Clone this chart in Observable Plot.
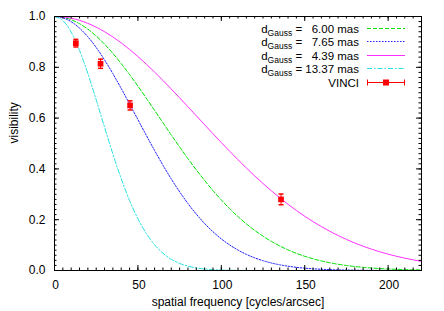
<!DOCTYPE html>
<html><head><meta charset="utf-8">
<script src="https://cdn.jsdelivr.net/npm/d3@7"></script>
<script src="https://cdn.jsdelivr.net/npm/@observablehq/plot@0.6"></script>
<style>html,body{margin:0;padding:0;background:#fff;}</style>
</head><body><div id="chart"></div>
<script>
// spatial frequency samples [cycles/arcsec]
const freq = [0,5,10,15,20,25,30,35,40,45,50,55,60,65,70,75,80,85,90,95,100,105,110,115,120,125,130,135,140,145,150,155,160,165,170,175,180,185,190,195,200,205,210,215,220];
// Gaussian visibility curves
const vis600 = [1,.9968,.9873,.9716,.9500,.9230,.8911,.8547,.8146,.7714,.7259,.6787,.6304,.5819,.5337,.4863,.4404,.3962,.3542,.3146,.2776,.2435,.2121,.1836,.1580,.1350,.1147,.0968,.0811,.0676,.0560,.0460,.0376,.0305,.0246,.0198,.0157,.0125,.0098,.0077,.0059,.0046,.0035,.0027,.0020];
const vis765 = [1,.9948,.9794,.9542,.9200,.8779,.8290,.7748,.7165,.6558,.5940,.5325,.4724,.4147,.3603,.3098,.2636,.2220,.1850,.1526,.1245,.1006,.0804,.0636,.0498,.0386,.0296,.0225,.0169,.0125,.0092,.0067,.0048,.0034,.0024,.0017,.0012,.0008,.0005,.0004,.0002,.0002,.0001,.0001,0];
const vis439 = [1,.9983,.9932,.9847,.9729,.9580,.9401,.9194,.8960,.8703,.8424,.8126,.7812,.7484,.7145,.6798,.6446,.6092,.5737,.5384,.5036,.4694,.4360,.4036,.3724,.3424,.3137,.2864,.2606,.2364,.2136,.1924,.1727,.1545,.1377,.1223,.1083,.0956,.0840,.0736,.0643,.0560,.0485,.0419,.0361];
const vis1337 = [1,.9842,.9384,.8666,.7753,.6719,.5640,.4586,.3613,.2757,.2038,.1459,.1012,.0680,.0442,.0279,.0170,.0101,.0058,.0032,.0017,.0009,.0005,.0002,.0001,0,0,0,0,0,0,0,0,0,0,0,0,0,0,0,0,0,0,0,0];
const dGauss = [6.00, 7.65, 4.39, 13.37];

// VINCI measurements
const vinciFreq = [12.8, 27.6, 45.3, 135.8];
const vinciVis = [0.895, 0.814, 0.650, 0.280];
const vinciErr = [0.015, 0.018, 0.018, 0.021];

// axis ticks
const xMajor = [0, 50, 100, 150, 200];
const yMajor = [0, 0.2, 0.4, 0.6, 0.8, 1.0];
const xMinor = d3.range(0, 221, 5);
const yMinor = d3.range(0, 51).map(i => i / 50);

const W = 444, H = 311, mL = 54, mR = 23, mT = 16, mB = 41;
const fw = W - mL - mR, fh = H - mT - mB;
const FONT = "'Liberation Sans', Arial, Helvetica, sans-serif";

const styles = [
  {vis: vis600, color: "#00e000", dash: "4,2"},
  {vis: vis765, color: "#2020ff", dash: "1.5,1.5"},
  {vis: vis439, color: "#ff30ff", dash: null},
  {vis: vis1337, color: "#20e0e0", dash: "5,2,1.5,2"}
];

const pts = vinciFreq.map((f, i) => ({f, v: vinciVis[i], e: vinciErr[i]}));
const capSymbol = {draw(ctx) { ctx.moveTo(-2.5, 0); ctx.lineTo(2.5, 0); }};

const marks = [];
styles.forEach(s => {
  marks.push(Plot.line(freq.map((f, i) => ({f, v: s.vis[i]})), {
    x: "f", y: "v", stroke: s.color, strokeWidth: 1,
    strokeDasharray: s.dash, curve: "monotone-x"
  }));
});
marks.push(
  Plot.ruleX(pts, {x: "f", y1: d => d.v - d.e, y2: d => d.v + d.e, stroke: "#ff0000", strokeWidth: 1}),
  Plot.dot(pts, {x: "f", y: d => d.v - d.e, symbol: capSymbol, stroke: "#ff0000", r: 3}),
  Plot.dot(pts, {x: "f", y: d => d.v + d.e, symbol: capSymbol, stroke: "#ff0000", r: 3}),
  Plot.dot(pts, {x: "f", y: "v", symbol: "square", fill: "#ff0000", stroke: "none", r: 3.2}),
  // inward ticks on all four sides
  Plot.tickX(xMajor, {x: d => d, insetTop: fh - 5, stroke: "#000"}),
  Plot.tickX(xMajor, {x: d => d, insetBottom: fh - 5, stroke: "#000"}),
  Plot.tickX(xMinor, {x: d => d, insetTop: fh - 2.5, stroke: "#000"}),
  Plot.tickX(xMinor, {x: d => d, insetBottom: fh - 2.5, stroke: "#000"}),
  Plot.tickY(yMajor, {y: d => d, insetRight: fw - 5, stroke: "#000"}),
  Plot.tickY(yMajor, {y: d => d, insetLeft: fw - 5, stroke: "#000"}),
  Plot.tickY(yMinor, {y: d => d, insetRight: fw - 2.5, stroke: "#000"}),
  Plot.tickY(yMinor, {y: d => d, insetLeft: fw - 2.5, stroke: "#000"}),
  Plot.frame({stroke: "#000", strokeWidth: 1}),
  Plot.axisX({ticks: xMajor, tickSize: 0, tickPadding: 10, label: null, dx: 1, fill: "#000"}),
  Plot.axisY({ticks: yMajor, tickSize: 0, tickPadding: 9, label: null, tickFormat: d3.format(".1f"), fill: "#000"}),
  Plot.text(["visibility"], {frameAnchor: "left", rotate: -90, dx: -40, fontSize: 12, fill: "#000"}),
  Plot.text(["spatial frequency [cycles/arcsec]"], {frameAnchor: "bottom", dy: 35, fontSize: 12, fill: "#000"})
);

const plot = Plot.plot({
  width: W, height: H,
  marginLeft: mL, marginRight: mR, marginTop: mT, marginBottom: mB,
  x: {domain: [0, 220]},
  y: {domain: [0, 1]},
  style: {fontFamily: FONT, fontSize: "12px", background: "#fff", color: "#000"},
  marks
});

// legend (key) inside the plot area, top right
const svg = d3.select(plot);
const lg = svg.append("g").attr("font-family", FONT).attr("font-size", 11.5);
const fmt = d3.format(".2f");
const rowY = i => mT + 11.5 + i * 13.5;
styles.forEach((s, i) => {
  const y = Math.round(rowY(i)) + 0.5;
  const t = lg.append("text").attr("x", 359).attr("y", y + 4).attr("text-anchor", "end").style("fill", "#000");
  t.append("tspan").text("d");
  t.append("tspan").attr("dy", 3).attr("font-size", 8.5).text("Gauss");
  const lab = dGauss[i] < 10 ? "\u2007" + fmt(dGauss[i]) : fmt(dGauss[i]);
  t.append("tspan").attr("dy", -3).text(" = " + lab + " mas");
  const ln = lg.append("line").attr("x1", 367).attr("x2", 405).attr("y1", y).attr("y2", y)
    .style("stroke", s.color).style("fill", "none").style("stroke-width", "1.2px");
  if (s.dash) ln.style("stroke-dasharray", s.dash);
});
{
  const y = Math.round(rowY(4)) + 0.5;
  lg.append("text").attr("x", 359).attr("y", y + 4).attr("text-anchor", "end").style("fill", "#000").text("VINCI");
  lg.append("line").attr("x1", 367).attr("x2", 405).attr("y1", y).attr("y2", y).style("stroke", "#ff0000");
  [367.5, 404.5].forEach(x => lg.append("line").attr("x1", x).attr("x2", x).attr("y1", y - 3).attr("y2", y + 3).style("stroke", "#ff0000"));
  lg.append("rect").attr("x", 386 - 3).attr("y", y - 3).attr("width", 6).attr("height", 6).style("fill", "#ff0000");
}

document.getElementById("chart").appendChild(plot);
</script>
</body></html>
